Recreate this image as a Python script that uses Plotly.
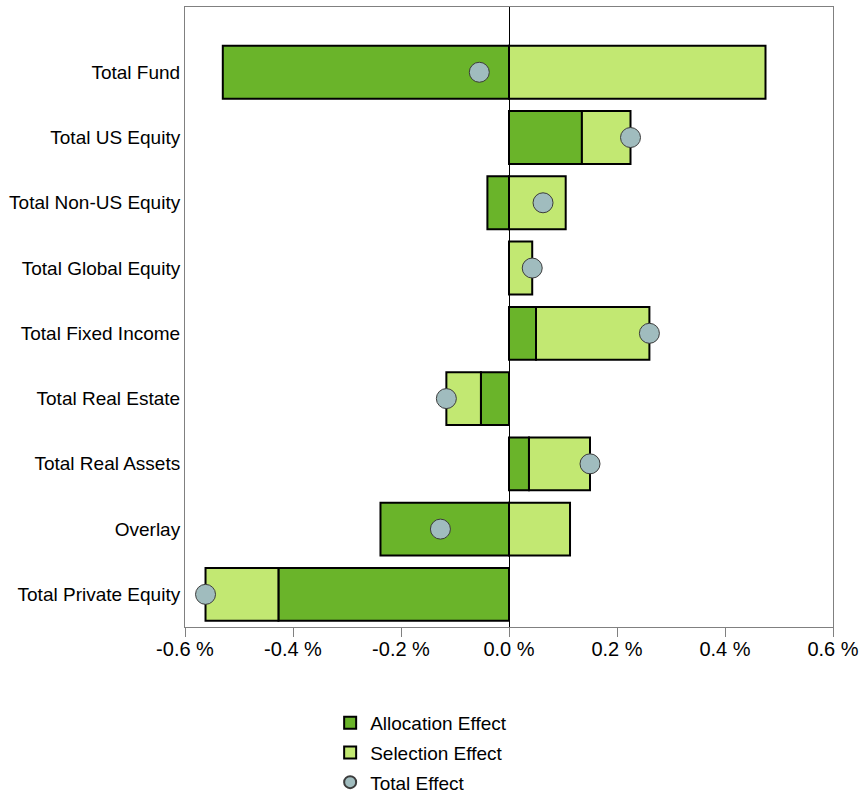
import plotly.graph_objects as go

categories = ['Total Fund', 'Total US Equity', 'Total Non-US Equity', 'Total Global Equity',
              'Total Fixed Income', 'Total Real Estate', 'Total Real Assets', 'Overlay',
              'Total Private Equity']
allocation = [-0.530, 0.135, -0.040, 0.000, 0.050, -0.052, 0.037, -0.238, -0.427]
selection = [0.475, 0.090, 0.105, 0.043, 0.210, -0.064, 0.113, 0.113, -0.135]
total = [-0.055, 0.225, 0.063, 0.043, 0.260, -0.116, 0.150, -0.127, -0.562]

tick_vals = [-0.6, -0.4, -0.2, 0.0, 0.2, 0.4, 0.6]
tick_text = ['-0.6 %', '-0.4 %', '-0.2 %', '0.0 %', '0.2 %', '0.4 %', '0.6 %']

fig = go.Figure()
fig.add_trace(go.Bar(y=categories, x=allocation, orientation='h', name='Allocation Effect',
                     legendgroup='a',
                     marker=dict(color='rgb(106,180,42)', line=dict(color='black', width=2)),
                     width=0.81))
fig.add_trace(go.Bar(y=categories, x=selection, orientation='h', name='Selection Effect',
                     legendgroup='s',
                     marker=dict(color='rgb(194,232,114)', line=dict(color='black', width=2)),
                     width=0.81))
fig.add_trace(go.Scatter(y=categories, x=total, mode='markers', name='Total Effect',
                         legendgroup='t',
                         marker=dict(symbol='circle', size=20, color='rgb(160,188,190)',
                                     line=dict(color='rgb(60,60,60)', width=1))))

fig.update_layout(
    width=862, height=796,
    barmode='relative',
    plot_bgcolor='white', paper_bgcolor='white',
    margin=dict(l=185, r=29, t=7, b=169, autoexpand=False),
    font=dict(family='Liberation Sans, Arial', size=19, color='black'),
    legend=dict(x=0.224, y=-0.124, xanchor='left', yanchor='top',
                font=dict(size=19), tracegroupgap=2, itemsizing='constant'),
)
fig.update_xaxes(range=[-0.6, 0.6], tickvals=tick_vals, ticktext=tick_text,
                 showgrid=False, zeroline=True, zerolinecolor='black', zerolinewidth=1,
                 showline=True, linecolor='gray', mirror=True, automargin=False,
                 ticks='outside', ticklen=9, tickcolor='gray', tickfont=dict(size=20),
                 ticklabelstandoff=-5)
fig.update_yaxes(range=[8.5, -1], showgrid=False, showline=True, linecolor='gray',
                 mirror=True, ticks='', automargin=False, ticklabelstandoff=0)

# page body has a default margin; drop it so the figure sits at the window corner
fig.write_html("out.html", config={'displayModeBar': False},
               post_script="document.body.style.margin='0';")
